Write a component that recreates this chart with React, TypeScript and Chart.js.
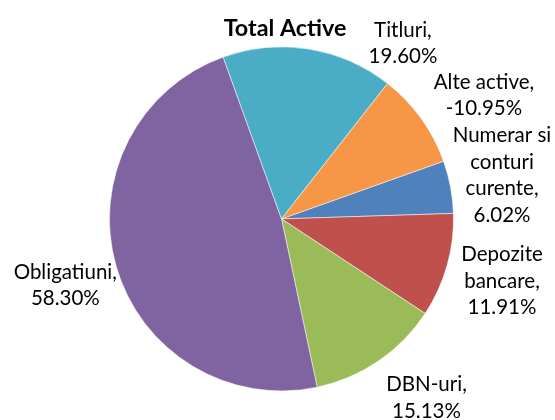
import React, { useEffect, useRef } from "react";
import { Chart, registerables } from "chart.js";

Chart.register(...registerables);

// ---- data ----
const title = "Total Active";
const categories = [
  "Numerar si conturi curente",
  "Depozite bancare",
  "DBN-uri",
  "Obligatiuni",
  "Titluri",
  "Alte active",
];
const values = [6.02, 11.91, 15.13, 58.3, 19.6, -10.95];

// ---- style / layout ----
const colors = ["#4F81BD", "#C0504D", "#9BBB59", "#8064A2", "#4BACC6", "#F79646"];
// label centre offsets, in units of the pie radius, relative to the pie centre
const labelOffsets: [number, number][] = [
  [1.282, -0.256],
  [1.282, 0.36],
  [0.843, 1.037],
  [-1.257, 0.383],
  [0.706, -1.022],
  [1.177, -0.7215],
];
const LABEL_FONT = "20.5px Lato";
const TITLE_FONT = "bold 23.3px Lato";
const LINE_H = 26.5;
const WRAP_W = 118;

function wrap(ctx: CanvasRenderingContext2D, text: string, maxW: number): string[] {
  const words = text.split(" ");
  const lines: string[] = [];
  let cur = "";
  for (const w of words) {
    const t = cur ? cur + " " + w : w;
    if (cur && ctx.measureText(t).width > maxW) {
      lines.push(cur);
      cur = w;
    } else cur = t;
  }
  if (cur) lines.push(cur);
  return lines;
}

const labelPlugin = {
  id: "labelPlugin",
  afterDraw(chart: any) {
    const ctx: CanvasRenderingContext2D = chart.ctx;
    const meta = chart.getDatasetMeta(0);
    ctx.save();
    ctx.fillStyle = "#000000";
    ctx.textAlign = "center";
    ctx.textBaseline = "alphabetic";
    // title
    const arc0 = meta.data[0];
    ctx.font = TITLE_FONT;
    ctx.fillText(title, arc0.x + 3.5, 36);
    // labels
    ctx.font = LABEL_FONT;
    meta.data.forEach((arc: any, i: number) => {
      const r = arc.outerRadius;
      const cx = arc.x + labelOffsets[i][0] * r;
      const cy = arc.y + labelOffsets[i][1] * r;
      const lines = wrap(ctx, categories[i] + ",", WRAP_W);
      lines.push(values[i].toFixed(2) + "%");
      const n = lines.length;
      lines.forEach((ln, j) => {
        ctx.fillText(ln, cx, cy + (j - (n - 1) / 2) * LINE_H + 7);
      });
    });
    ctx.restore();
  },
};

export default function App() {
  const ref = useRef<HTMLCanvasElement>(null);
  useEffect(() => {
    if (!ref.current) return;
    const chart = new Chart(ref.current, {
      type: "pie",
      data: {
        labels: categories,
        datasets: [
          {
            data: values,
            backgroundColor: colors,
            borderColor: "rgba(255,255,255,0.5)",
            borderWidth: 1,
          },
        ],
      },
      options: {
        responsive: false,
        animation: false,
        rotation: 70.4,
        layout: { padding: { top: 46.3, bottom: 28.5, left: 109, right: 101 } },
        plugins: {
          legend: { display: false },
          tooltip: { enabled: false },
          title: { display: false },
        },
      },
      plugins: [labelPlugin],
    });
    return () => chart.destroy();
  }, []);
  return (
    <div style={{ position: "absolute", left: 0, top: 0, width: 555, height: 420, background: "#fff" }}>
      <canvas ref={ref} width={555} height={420} style={{ display: "block" }} />
    </div>
  );
}
